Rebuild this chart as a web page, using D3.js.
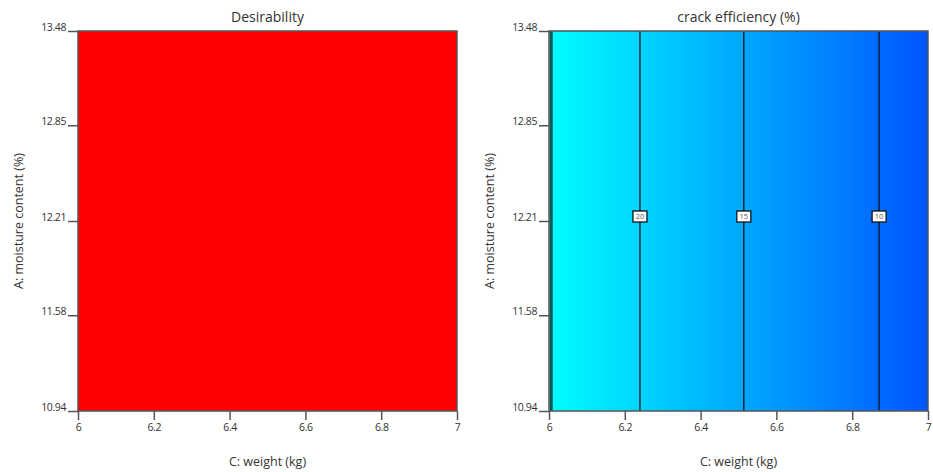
<!DOCTYPE html>
<html>
<head>
<meta charset="utf-8">
<script src="https://cdn.jsdelivr.net/npm/d3@7"></script>
<style>
  body { margin: 0; background: #fff; }
  text { font-family: "Open Sans", "Noto Sans", sans-serif; fill: #333; }
  .tick text { font-size: 10.5px; letter-spacing: -0.4px; }
</style>
</head>
<body>
<svg id="chart" width="933" height="472"></svg>
<script>
var svgWidth = 933;
var svgHeight = 472;

// axis ranges and tick labels
var weightDomain = [6, 7];
var moistureDomain = [10.94, 13.48];
var weightTicks = [6, 6.2, 6.4, 6.6, 6.8, 7];
var moistureTicks = [10.94, 11.58, 12.21, 12.85, 13.48];

// crack efficiency read along the weight axis (no moisture dependence)
var effWeights = [6, 6.24, 6.514, 6.871, 7];
var effValues = [25, 20, 15, 10, 8.3];

// contour lines: level, weight position
var contourLevels = [25, 20, 15, 10];
var contourWeights = [6.006, 6.24, 6.514, 6.871];
var labelMoisture = 12.24;

var panels = [
  { title: "Desirability", left: 78, kind: "desir" },
  { title: "crack efficiency (%)", left: 549, kind: "eff" }
];
var plotTop = 31, plotW = 379, plotH = 380;

var svg = d3.select("#chart");
var defs = svg.append("defs");

var color = d3.scaleLinear()
  .domain([8, 16, 25])
  .range(["#0052ff", "#00b4ff", "#00ffff"]);

panels.forEach(function(p) {
  var g = svg.append("g").attr("transform", `translate(${p.left}, ${plotTop})`);

  var x = d3.scaleLinear().domain(weightDomain).range([0, plotW]);
  var y = d3.scaleLinear().domain(moistureDomain).range([plotH, 0]);

  if (p.kind === "desir") {
    g.append("rect")
      .attr("x", 0).attr("y", 0)
      .attr("width", plotW).attr("height", plotH)
      .attr("fill", "#ff0000");
  } else {
    var grad = defs.append("linearGradient")
      .attr("id", "effGrad")
      .attr("x1", "0%").attr("x2", "100%")
      .attr("y1", "0%").attr("y2", "0%");
    grad.selectAll("stop")
      .data(effWeights.map((w, i) => ({ w: w, v: effValues[i] })))
      .enter().append("stop")
      .attr("offset", d => (x(d.w) / plotW * 100) + "%")
      .attr("stop-color", d => color(d.v));
    g.append("rect")
      .attr("x", 0).attr("y", 0)
      .attr("width", plotW).attr("height", plotH)
      .attr("fill", "url(#effGrad)");

    var cont = contourLevels.map((lv, i) => ({ lv: lv, w: contourWeights[i] }));
    g.selectAll(".cline")
      .data(cont)
      .enter().append("line")
      .attr("x1", d => x(d.w)).attr("x2", d => x(d.w))
      .attr("y1", 0).attr("y2", plotH)
      .attr("stroke", d => d.lv === 25 ? "#0b5a5a" : "#0a1520")
      .attr("stroke-width", d => d.lv === 25 ? 3 : 1.3);

    var lab = g.selectAll(".clab")
      .data(cont.filter(d => d.lv !== 25))
      .enter().append("g")
      .attr("transform", d => `translate(${x(d.w)}, ${y(labelMoisture)})`);
    lab.append("rect")
      .attr("x", -7).attr("y", -5.5)
      .attr("width", 14).attr("height", 11)
      .attr("fill", "#fff")
      .attr("stroke", "#111").attr("stroke-width", 1.3);
    lab.append("text")
      .attr("text-anchor", "middle")
      .attr("dy", "0.35em")
      .style("font-size", "7.5px")
      .style("fill", "#555")
      .text(d => d.lv);
  }

  // frame
  g.append("rect")
    .attr("x", 0).attr("y", 0)
    .attr("width", plotW).attr("height", plotH)
    .attr("fill", "none")
    .attr("stroke", "#555").attr("stroke-width", 1.5);

  var bottomAxis = d3.axisBottom(x).tickValues(weightTicks)
    .tickSize(9).tickPadding(4).tickFormat(d3.format("~g"));
  var leftAxis = d3.axisLeft(y).tickValues(moistureTicks)
    .tickSize(10).tickPadding(2).tickFormat(d3.format(".2f"));

  var gx = g.append("g")
    .attr("transform", `translate(0, ${plotH})`)
    .call(bottomAxis);
  gx.select(".domain").remove();
  gx.selectAll(".tick line").attr("stroke", "#555").attr("stroke-width", 1.5);

  var gy = g.append("g").call(leftAxis);
  gy.select(".domain").remove();
  gy.selectAll(".tick line").attr("stroke", "#555").attr("stroke-width", 1.5);
  gy.selectAll(".tick text").attr("dy", "-0.05em").attr("x", -12);

  g.append("text")
    .attr("x", plotW / 2).attr("y", -9)
    .attr("text-anchor", "middle")
    .style("font-size", "14px")
    .text(p.title);

  g.append("text")
    .attr("x", plotW / 2).attr("y", plotH + 55)
    .attr("text-anchor", "middle")
    .style("font-size", "12.5px")
    .text("C: weight (kg)");

  g.append("text")
    .attr("transform", "rotate(-90)")
    .attr("x", -plotH / 2).attr("y", -55)
    .attr("text-anchor", "middle")
    .style("font-size", "12.5px")
    .text("A: moisture content (%)");
});
</script>
</body>
</html>
